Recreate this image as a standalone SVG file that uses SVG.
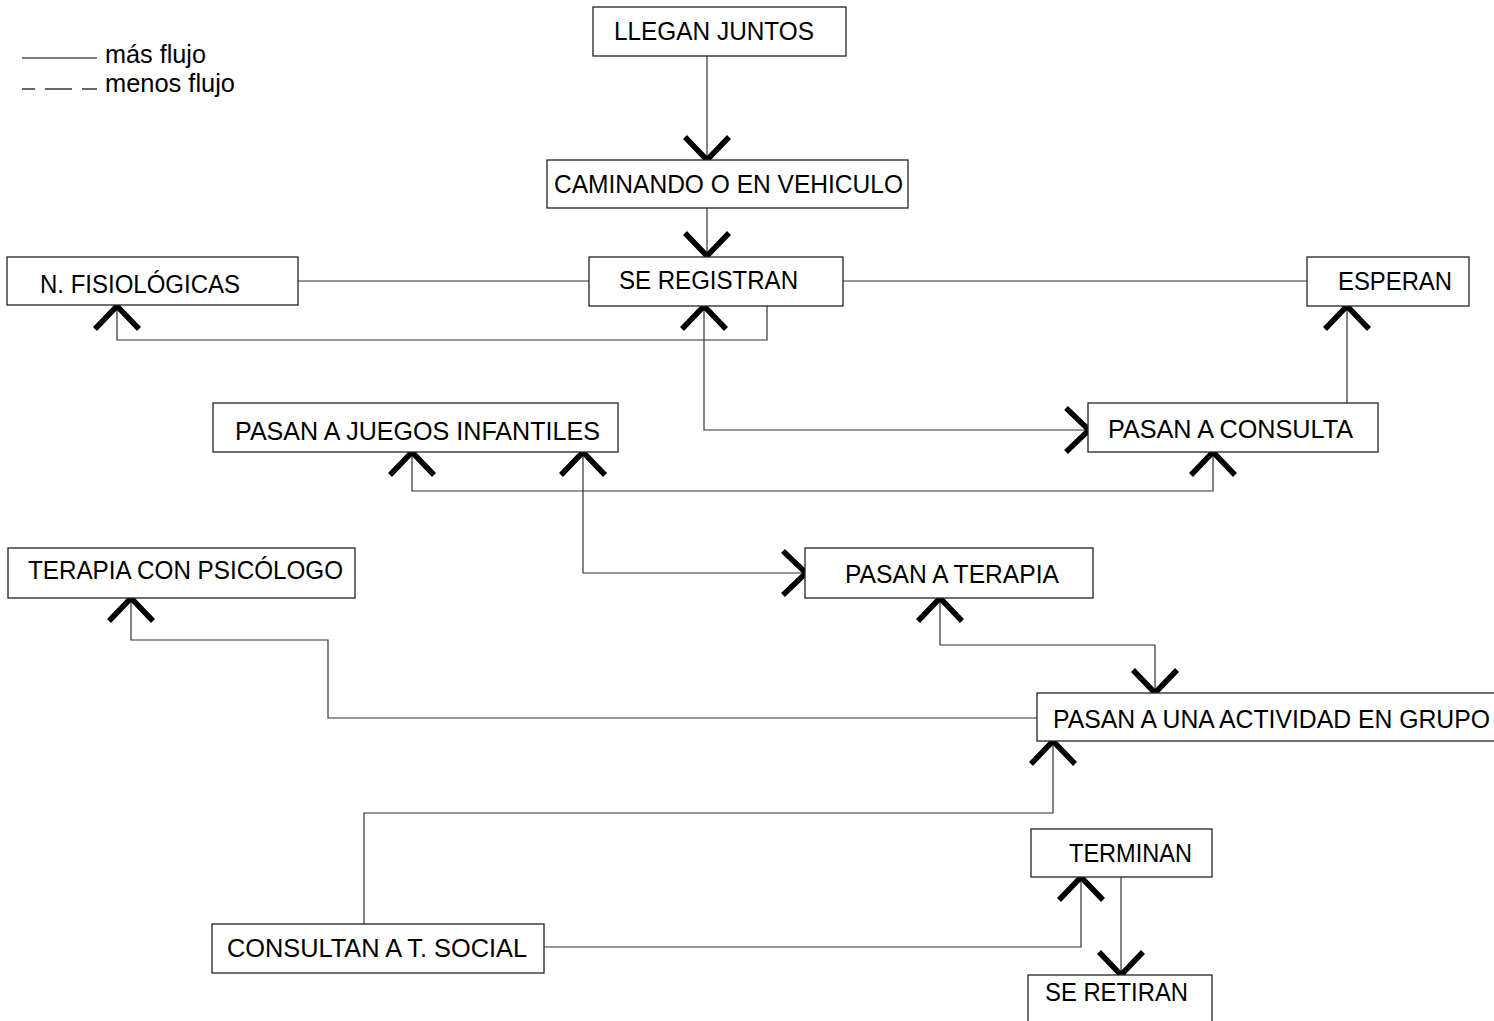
<svg xmlns="http://www.w3.org/2000/svg" xmlns:xlink="http://www.w3.org/1999/xlink" width="1494" height="1021" viewBox="0 0 1494 1021">
<style>
.box{fill:#fff;stroke:#222;stroke-width:1.3}
.t{font-family:"Liberation Sans",Arial,sans-serif;font-size:25px;fill:#000}
.ln{fill:none;stroke:#333;stroke-width:1.2}
.ah{fill:none;stroke:#000;stroke-width:5.5;stroke-linecap:butt;stroke-linejoin:miter}
</style>
<defs>
<path id="ah" class="ah" d="M-22,-23 L0,0 L22,-23"/>
</defs>
<rect width="1494" height="1021" fill="#fff"/>
<g id="legend">
<line x1="22" y1="58" x2="97" y2="58" stroke="#000" stroke-width="1.2"/>
<text class="t" x="105" y="63" textLength="101" lengthAdjust="spacingAndGlyphs">más flujo</text>
<line x1="22" y1="89" x2="35" y2="89" stroke="#000" stroke-width="1.2"/>
<line x1="45" y1="89" x2="72" y2="89" stroke="#000" stroke-width="1.2"/>
<line x1="82" y1="89" x2="97" y2="89" stroke="#000" stroke-width="1.2"/>
<text class="t" x="105" y="92" textLength="130" lengthAdjust="spacingAndGlyphs">menos flujo</text>
</g>
<g id="connectors">
<path class="ln" d="M707,56 V158"/>
<path class="ln" d="M707,208 V255"/>
<path class="ln" d="M298,281 H589"/>
<path class="ln" d="M843,281 H1307"/>
<path class="ln" d="M117,306 V340 H767 V306"/>
<path class="ln" d="M704,306 V430 H1088"/>
<path class="ln" d="M1347,306 V403"/>
<path class="ln" d="M1213,452 V491 H412 V452"/>
<path class="ln" d="M583,452 V573 H805"/>
<path class="ln" d="M940,598 V645 H1155 V693"/>
<path class="ln" d="M1037,718 H328 V640 H131 V598"/>
<path class="ln" d="M1053,741 V813 H364 V924"/>
<path class="ln" d="M544,947 H1081 V877"/>
<path class="ln" d="M1121,877 V975"/>
<use xlink:href="#ah" href="#ah" transform="translate(707,160)"/>
<use xlink:href="#ah" href="#ah" transform="translate(707,256)"/>
<use xlink:href="#ah" href="#ah" transform="translate(117,306) rotate(180)"/>
<use xlink:href="#ah" href="#ah" transform="translate(704,306) rotate(180)"/>
<use xlink:href="#ah" href="#ah" transform="translate(1347,306) rotate(180)"/>
<use xlink:href="#ah" href="#ah" transform="translate(1089,430) rotate(-90)"/>
<use xlink:href="#ah" href="#ah" transform="translate(1213,452) rotate(180)"/>
<use xlink:href="#ah" href="#ah" transform="translate(412,452) rotate(180)"/>
<use xlink:href="#ah" href="#ah" transform="translate(583,452) rotate(180)"/>
<use xlink:href="#ah" href="#ah" transform="translate(806,573) rotate(-90)"/>
<use xlink:href="#ah" href="#ah" transform="translate(940,598) rotate(180)"/>
<use xlink:href="#ah" href="#ah" transform="translate(1155,693)"/>
<use xlink:href="#ah" href="#ah" transform="translate(131,598) rotate(180)"/>
<use xlink:href="#ah" href="#ah" transform="translate(1053,741) rotate(180)"/>
<use xlink:href="#ah" href="#ah" transform="translate(1081,877) rotate(180)"/>
<use xlink:href="#ah" href="#ah" transform="translate(1121,975)"/>
</g>
<g id="llegan"><rect class="box" x="593" y="7" width="253" height="49"/><text class="t" x="614" y="40" textLength="200" lengthAdjust="spacingAndGlyphs">LLEGAN JUNTOS</text></g>
<g id="caminando"><rect class="box" x="547" y="160" width="361" height="48"/><text class="t" x="554" y="193" textLength="349" lengthAdjust="spacingAndGlyphs">CAMINANDO O EN VEHICULO</text></g>
<g id="registran"><rect class="box" x="589" y="257" width="254" height="49"/><text class="t" x="619" y="289" textLength="179" lengthAdjust="spacingAndGlyphs">SE REGISTRAN</text></g>
<g id="fisiologicas"><rect class="box" x="7" y="257" width="291" height="48"/><text class="t" x="40" y="293" textLength="200" lengthAdjust="spacingAndGlyphs">N. FISIOLÓGICAS</text></g>
<g id="esperan"><rect class="box" x="1307" y="257" width="162" height="49"/><text class="t" x="1338" y="290" textLength="114" lengthAdjust="spacingAndGlyphs">ESPERAN</text></g>
<g id="consulta"><rect class="box" x="1088" y="403" width="290" height="49"/><text class="t" x="1108" y="438" textLength="245" lengthAdjust="spacingAndGlyphs">PASAN A CONSULTA</text></g>
<g id="juegos"><rect class="box" x="213" y="403" width="405" height="49"/><text class="t" x="235" y="440" textLength="365" lengthAdjust="spacingAndGlyphs">PASAN A JUEGOS INFANTILES</text></g>
<g id="terapia"><rect class="box" x="805" y="548" width="288" height="50"/><text class="t" x="845" y="583" textLength="214" lengthAdjust="spacingAndGlyphs">PASAN A TERAPIA</text></g>
<g id="psicologo"><rect class="box" x="8" y="548" width="347" height="50"/><text class="t" x="28" y="579" textLength="315" lengthAdjust="spacingAndGlyphs">TERAPIA CON PSICÓLOGO</text></g>
<g id="grupo"><rect class="box" x="1037" y="693" width="470" height="48"/><text class="t" x="1053" y="728" textLength="437" lengthAdjust="spacingAndGlyphs">PASAN A UNA ACTIVIDAD EN GRUPO</text></g>
<g id="social"><rect class="box" x="212" y="924" width="332" height="49"/><text class="t" x="227" y="957" textLength="300" lengthAdjust="spacingAndGlyphs">CONSULTAN A T. SOCIAL</text></g>
<g id="terminan"><rect class="box" x="1031" y="829" width="181" height="48"/><text class="t" x="1069" y="862" textLength="123" lengthAdjust="spacingAndGlyphs">TERMINAN</text></g>
<g id="retiran"><rect class="box" x="1028" y="975" width="184" height="60"/><text class="t" x="1045" y="1001" textLength="143" lengthAdjust="spacingAndGlyphs">SE RETIRAN</text></g>
</svg>
